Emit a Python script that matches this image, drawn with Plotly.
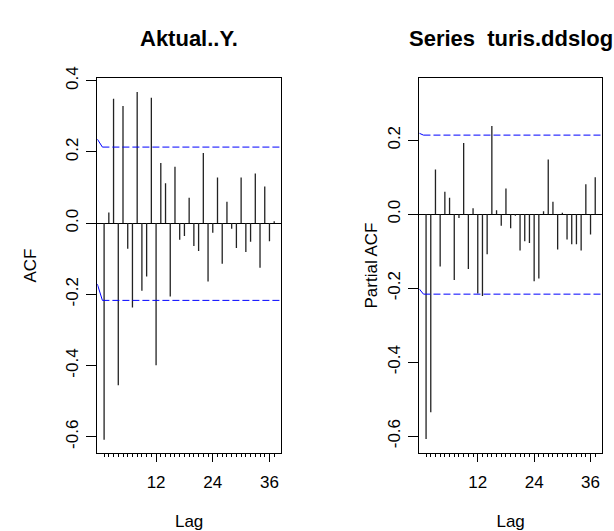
import plotly.graph_objects as go

W, H = 614, 531

lags = list(range(1, 38))
acf_vals = [-0.608, 0.030, 0.349, -0.455, 0.329, -0.072, -0.237, 0.368, -0.190, -0.150,
            0.352, -0.399, 0.169, 0.112, -0.206, 0.158, -0.047, -0.036, 0.071, -0.064,
            -0.078, 0.197, -0.164, -0.027, 0.128, -0.114, 0.060, -0.016, -0.070, 0.128,
            -0.081, -0.052, 0.139, -0.125, 0.103, -0.051, 0.005]
pacf_vals = [-0.608, -0.535, 0.121, -0.141, 0.061, 0.045, -0.178, -0.010, 0.193, -0.148,
             0.016, -0.214, -0.221, -0.108, 0.239, 0.011, -0.031, 0.070, -0.038, -0.004,
             -0.098, -0.073, -0.078, -0.181, -0.174, 0.008, 0.148, 0.034, -0.095, 0.004,
             -0.068, -0.081, -0.081, -0.098, 0.081, -0.055, 0.100]

# confidence bounds: [value at left edge, level]
acf_ci_upper = [0.236, 0.2135]
acf_ci_lower = [-0.171, -0.217]
pacf_ci_upper = [0.219, 0.214]
pacf_ci_lower = [-0.202, -0.216]
acf_ci_x = [-0.44, 0.64]
pacf_ci_x = [-0.44, 0.45]

x_ticks = [12, 24, 36]
acf_yticks = [-0.6, -0.4, -0.2, 0.0, 0.2, 0.4]
pacf_yticks = [-0.6, -0.4, -0.2, 0.0, 0.2]

titles = ["Aktual..Y.", "Series  turis.ddslog"]
y_titles = ["ACF", "Partial ACF"]
y_title_standoff = [21, 2]

xrange_ = [-0.44, 38.44]
FONT = "Liberation Sans, Arial, sans-serif"


def stems(vals):
    xs, ys = [], []
    for l, v in zip(lags, vals):
        xs += [l, l, None]
        ys += [0, v, None]
    return xs, ys


fig = go.Figure()

for i, (vals, up, lo, cx) in enumerate([
        (acf_vals, acf_ci_upper, acf_ci_lower, acf_ci_x),
        (pacf_vals, pacf_ci_upper, pacf_ci_lower, pacf_ci_x)]):
    xa = "x" if i == 0 else "x2"
    ya = "y" if i == 0 else "y2"
    sx, sy = stems(vals)
    fig.add_trace(go.Scatter(x=sx, y=sy, mode="lines", xaxis=xa, yaxis=ya,
                             line=dict(color="#222222", width=1.3),
                             showlegend=False, hoverinfo="skip"))
    for bound in (up, lo):
        fig.add_trace(go.Scatter(x=cx, y=bound, mode="lines", xaxis=xa, yaxis=ya,
                                 line=dict(color="#0000FF", width=1),
                                 showlegend=False, hoverinfo="skip"))
        fig.add_trace(go.Scatter(x=[cx[1], xrange_[1]], y=[bound[1], bound[1]],
                                 mode="lines", xaxis=xa, yaxis=ya,
                                 line=dict(color="#0000FF", width=1, dash="7px,3px"),
                                 showlegend=False, hoverinfo="skip"))

ydom = [1 - 451 / H, 1 - 67.7 / H]
xdoms = [[97.3 / W, 281 / W], [419.3 / W, 602 / W]]


def xaxis_cfg(dom, anchor):
    return dict(domain=dom, anchor=anchor, range=xrange_,
                tickmode="array", tickvals=x_ticks, ticktext=[str(t) for t in x_ticks],
                ticks="outside", ticklen=8, tickwidth=1, tickcolor="black",
                ticklabelstandoff=6,
                showline=True, linecolor="black", linewidth=1, mirror=True,
                showgrid=False, zeroline=False,
                minor=dict(tickvals=lags, ticks="outside", ticklen=3, tickcolor="black",
                           tickwidth=1, showgrid=False),
                tickfont=dict(size=17, color="black", family=FONT),
                title=dict(text="Lag", font=dict(size=17, color="black", family=FONT),
                           standoff=26))


def yaxis_cfg(anchor, rng, ticks, title, standoff):
    return dict(domain=ydom, anchor=anchor, range=rng,
                tickmode="array", tickvals=ticks,
                ticktext=[("%.1f" % t) for t in ticks],
                tickangle=-90,
                ticks="outside", ticklen=10, tickwidth=1, tickcolor="black",
                ticklabelstandoff=2,
                showline=True, linecolor="black", linewidth=1, mirror=True,
                showgrid=False, zeroline=True, zerolinecolor="black", zerolinewidth=1,
                tickfont=dict(size=17, color="black", family=FONT),
                title=dict(text=title, font=dict(size=17, color="black", family=FONT),
                           standoff=standoff))


fig.update_layout(
    width=W, height=H,
    margin=dict(l=0, r=0, t=0, b=0),
    paper_bgcolor="white", plot_bgcolor="white",
    font=dict(family=FONT, color="black"),
    xaxis=xaxis_cfg(xdoms[0], "y"),
    xaxis2=xaxis_cfg(xdoms[1], "y2"),
    yaxis=yaxis_cfg("x", [-0.645, 0.407], acf_yticks, y_titles[0], y_title_standoff[0]),
    yaxis2=yaxis_cfg("x2", [-0.645, 0.368], pacf_yticks, y_titles[1], y_title_standoff[1]),
)

for i, t in enumerate(titles):
    fig.add_annotation(text="<b>%s</b>" % t, xref="paper", yref="paper",
                       x=(xdoms[i][0] + xdoms[i][1]) / 2, y=1 - 27 / H,
                       xanchor="center", yanchor="middle", showarrow=False,
                       font=dict(size=22, color="black", family=FONT))

fig.write_html("out.html")
